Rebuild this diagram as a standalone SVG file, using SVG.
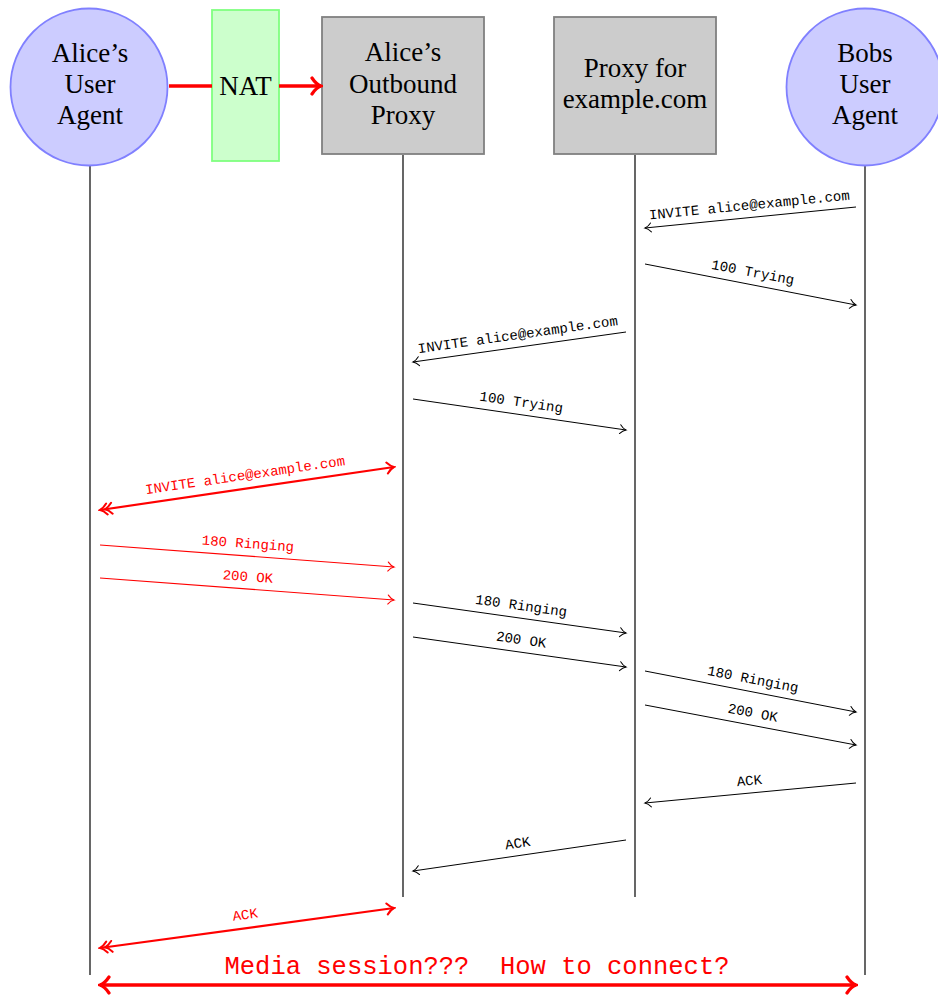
<svg xmlns="http://www.w3.org/2000/svg" width="938" height="995" viewBox="0 0 938 995">
  <style>
    .node-text { font-family: "Liberation Serif", "Times New Roman", serif; font-size: 27px; fill: #000; text-anchor: middle; }
    .lbl { font-family: "Liberation Mono", "Courier New", monospace; font-size: 14px; text-anchor: middle; }
    .blk { fill: #000; }
    .red { fill: #ff0000; }
    .life { stroke: #000; stroke-width: 1.2; fill: none; }
    .msg { stroke: #000; stroke-width: 1; fill: none; marker-end: url(#tipK); }
    .rmsg { stroke: #ff0000; stroke-width: 1.1; fill: none; marker-end: url(#tipR); }
    .rthick { stroke: #ff0000; stroke-width: 2.2; fill: none; marker-start: url(#tipR2); marker-end: url(#dblR); }
    .media { font-family: "Liberation Mono", "Courier New", monospace; font-size: 25.5px; fill: #ff0000; text-anchor: middle; white-space: pre; }
  </style>
  <defs>
    <marker id="tipK" viewBox="-10 -8 12 16" markerWidth="12" markerHeight="16" refX="0" refY="0" orient="auto-start-reverse" markerUnits="userSpaceOnUse">
      <path d="M-6,-4.5 C-4,-2 -1.5,-0.5 0,0 C-1.5,0.5 -4,2 -6,4.5" fill="none" stroke="#000" stroke-width="1" stroke-linecap="round"/>
    </marker>
    <marker id="tipR" viewBox="-10 -8 12 16" markerWidth="12" markerHeight="16" refX="0" refY="0" orient="auto-start-reverse" markerUnits="userSpaceOnUse">
      <path d="M-6,-4.5 C-4,-2 -1.5,-0.5 0,0 C-1.5,0.5 -4,2 -6,4.5" fill="none" stroke="#ff0000" stroke-width="1.1" stroke-linecap="round"/>
    </marker>
    <marker id="tipR2" viewBox="-12 -9 14 18" markerWidth="14" markerHeight="18" refX="0" refY="0" orient="auto-start-reverse" markerUnits="userSpaceOnUse">
      <path d="M-7,-5.5 C-4.5,-2.5 -1.8,-0.6 0,0 C-1.8,0.6 -4.5,2.5 -7,5.5" fill="none" stroke="#ff0000" stroke-width="2" stroke-linecap="round"/>
    </marker>
    <marker id="dblR" viewBox="-18 -9 20 18" markerWidth="20" markerHeight="18" refX="0" refY="0" orient="auto" markerUnits="userSpaceOnUse">
      <path d="M-7,-5.5 C-4.5,-2.5 -1.8,-0.6 0,0 C-1.8,0.6 -4.5,2.5 -7,5.5 M-12,-5.5 C-9.5,-2.5 -6.8,-0.6 -5,0 C-6.8,0.6 -9.5,2.5 -12,5.5" fill="none" stroke="#ff0000" stroke-width="2" stroke-linecap="round"/>
    </marker>
    <marker id="tipBig" viewBox="-14 -11 16 22" markerWidth="16" markerHeight="22" refX="0" refY="0" orient="auto-start-reverse" markerUnits="userSpaceOnUse">
      <path d="M-9,-8 C-6,-3.5 -2.5,-0.8 0,0 C-2.5,0.8 -6,3.5 -9,8" fill="none" stroke="#ff0000" stroke-width="3.2" stroke-linecap="round"/>
    </marker>
  </defs>

  <!-- lifelines -->
  <g id="lifelines">
    <line class="life" x1="90" y1="166" x2="90" y2="975"/>
    <line class="life" x1="403" y1="155" x2="403" y2="897"/>
    <line class="life" x1="635" y1="155" x2="635" y2="897"/>
    <line class="life" x1="865" y1="166" x2="865" y2="975"/>
  </g>

  <!-- participants -->
  <g id="alice-ua">
    <circle cx="89" cy="87" r="78.5" fill="#ccccff" stroke="#8080ff" stroke-width="1.8"/>
    <text class="node-text" x="90" y="62">Alice’s</text>
    <text class="node-text" x="90" y="93">User</text>
    <text class="node-text" x="90" y="124">Agent</text>
  </g>
  <g id="nat">
    <rect x="212" y="10" width="67" height="151" fill="#ccffcc" stroke="#80ff80" stroke-width="1.8"/>
    <text class="node-text" x="245.5" y="95">NAT</text>
  </g>
  <g id="alice-proxy">
    <rect x="322" y="17" width="162" height="137" fill="#cccccc" stroke="#808080" stroke-width="1.8"/>
    <text class="node-text" x="403" y="61">Alice’s</text>
    <text class="node-text" x="403" y="93">Outbound</text>
    <text class="node-text" x="403" y="124">Proxy</text>
  </g>
  <g id="example-proxy">
    <rect x="554" y="17" width="162" height="137" fill="#cccccc" stroke="#808080" stroke-width="1.8"/>
    <text class="node-text" x="635" y="77">Proxy for</text>
    <text class="node-text" x="635" y="108">example.com</text>
  </g>
  <g id="bob-ua">
    <circle cx="865" cy="87" r="78.5" fill="#ccccff" stroke="#8080ff" stroke-width="1.8"/>
    <text class="node-text" x="865" y="62">Bobs</text>
    <text class="node-text" x="865" y="93">User</text>
    <text class="node-text" x="865" y="124">Agent</text>
  </g>

  <!-- connectors -->
  <g id="connectors">
    <line x1="169" y1="86" x2="212" y2="86" stroke="#ff0000" stroke-width="3.6"/>
    <line x1="279" y1="86" x2="321" y2="86" stroke="#ff0000" stroke-width="3.6" marker-end="url(#tipBig)"/>

    <line class="msg" x1="856" y1="207" x2="645" y2="228"/>
    <line class="msg" x1="645" y1="264" x2="856" y2="305"/>
    <line class="msg" x1="626" y1="332" x2="413" y2="362"/>
    <line class="msg" x1="413" y1="399" x2="626" y2="430"/>

    <line class="rthick" x1="394" y1="467" x2="100" y2="510"/>
    <line class="rmsg" x1="100" y1="545" x2="394" y2="567"/>
    <line class="rmsg" x1="100" y1="578" x2="394" y2="600"/>

    <line class="msg" x1="413" y1="603" x2="626" y2="633"/>
    <line class="msg" x1="413" y1="637" x2="626" y2="667"/>
    <line class="msg" x1="645" y1="671" x2="856" y2="712"/>
    <line class="msg" x1="645" y1="705" x2="856" y2="745"/>
    <line class="msg" x1="856" y1="783" x2="645" y2="803"/>
    <line class="msg" x1="626" y1="840" x2="413" y2="871"/>

    <line class="rthick" x1="394" y1="908" x2="100" y2="948"/>

    <line x1="100" y1="985" x2="856" y2="985" stroke="#ff0000" stroke-width="3.6" marker-start="url(#tipBig)" marker-end="url(#tipBig)"/>
  </g>

  <!-- message labels -->
  <g id="labels">
    <text class="lbl blk" transform="translate(750.5,217.5) rotate(-5.68)" y="-8">INVITE alice@example.com</text>
    <text class="lbl blk" transform="translate(750.5,284.5) rotate(10.99)" y="-8">100 Trying</text>
    <text class="lbl blk" transform="translate(519.5,347) rotate(-8.02)" y="-8">INVITE alice@example.com</text>
    <text class="lbl blk" transform="translate(519.5,414.5) rotate(8.28)" y="-8">100 Trying</text>
    <text class="lbl red" transform="translate(247,488.5) rotate(-8.32)" y="-9">INVITE alice@example.com</text>
    <text class="lbl red" transform="translate(247,556) rotate(4.28)" y="-8">180 Ringing</text>
    <text class="lbl red" transform="translate(247,589) rotate(4.28)" y="-8">200 OK</text>
    <text class="lbl blk" transform="translate(519.5,618) rotate(8.02)" y="-8">180 Ringing</text>
    <text class="lbl blk" transform="translate(519.5,652) rotate(8.02)" y="-8">200 OK</text>
    <text class="lbl blk" transform="translate(750.5,691.5) rotate(10.99)" y="-8">180 Ringing</text>
    <text class="lbl blk" transform="translate(750.5,725) rotate(10.73)" y="-8">200 OK</text>
    <text class="lbl blk" transform="translate(750.5,793) rotate(-5.41)" y="-8">ACK</text>
    <text class="lbl blk" transform="translate(519.5,855.5) rotate(-8.28)" y="-8">ACK</text>
    <text class="lbl red" transform="translate(247,928) rotate(-7.75)" y="-9">ACK</text>
    <text class="media" x="477" y="974">Media session???  How to connect?</text>
  </g>
</svg>
